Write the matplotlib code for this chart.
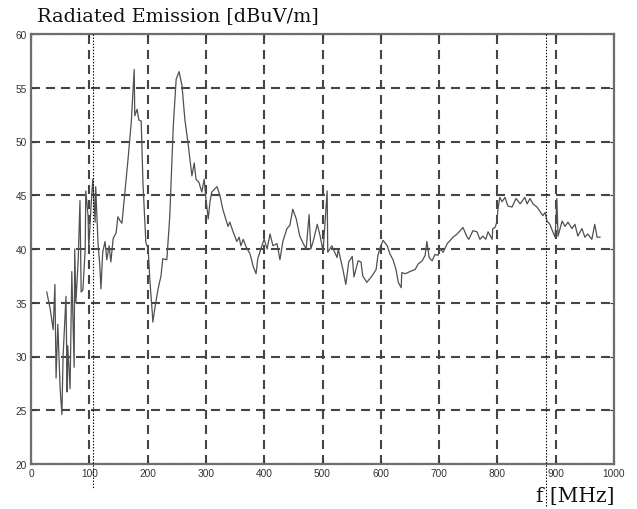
import matplotlib
matplotlib.use("Agg")
import matplotlib.pyplot as plt

# Data
freq_mhz = [27, 33, 38, 41, 43, 46, 50, 53, 55, 60, 62, 63, 67, 70, 74, 75, 77, 81, 84, 86,
            89, 93, 94, 98, 99, 103, 106, 110, 111, 115, 118, 120, 123, 127, 130, 134, 137,
            141, 146, 149, 153, 156, 161, 166, 172, 177, 178, 182, 185, 189, 192, 197, 201,
            204, 208, 209, 213, 218, 223, 226, 233, 238, 244, 249, 254, 259, 264, 269, 274,
            276, 280, 283, 288, 293, 297, 300, 304, 307, 310, 319, 324, 329, 334, 338, 341,
            346, 353, 357, 360, 364, 369, 376, 381, 386, 389, 396, 400, 405, 410, 415, 422,
            427, 432, 439, 444, 449, 455, 461, 467, 472, 477, 480, 484, 491, 496, 501, 508,
            509, 516, 525, 527, 535, 540, 545, 551, 554, 561, 566, 569, 576, 585, 592, 595,
            600, 604, 611, 616, 621, 626, 630, 635, 636, 642, 650, 659, 664, 671, 676, 679,
            683, 688, 693, 698, 702, 707, 714, 719, 724, 731, 736, 741, 748, 751, 758, 765,
            770, 775, 780, 784, 791, 792, 796, 799, 801, 804, 808, 813, 818, 825, 832, 839,
            847, 851, 856, 861, 868, 873, 878, 882, 885, 890, 895, 899, 902, 904, 911, 916,
            921, 928, 933, 938, 945, 950, 955, 962, 967, 971, 976]
level_dbuv = [36.0, 34.4, 32.5, 36.7, 28.0, 33.0, 27.0, 24.6, 30.0, 35.6, 26.7, 31.0, 27.0,
              37.9, 29.0, 40.0, 35.0, 39.0, 44.5, 36.0, 36.2, 40.0, 45.4, 43.0, 40.0, 44.0,
              46.5, 42.5, 45.8, 40.5, 38.5, 36.3, 39.7, 40.7, 39.0, 40.3, 38.8, 41.0, 41.5,
              43.0, 42.6, 42.4, 45.3, 48.1, 51.8, 56.7, 52.4, 53.0, 52.0, 51.9, 46.2, 40.6,
              40.0, 37.0, 34.1, 33.2, 34.7, 36.3, 37.5, 39.1, 39.0, 43.0, 51.4, 55.8, 56.5,
              55.2, 52.0, 50.0, 47.7, 46.8, 48.0, 46.5, 46.2, 45.3, 46.5, 44.7, 42.8, 44.4,
              45.3, 45.8, 45.0, 43.7, 42.8, 42.1, 42.5, 41.7, 40.7, 41.1, 40.3, 40.9, 40.2,
              39.5, 38.4, 37.7, 39.1, 40.3, 40.9, 40.0, 41.4, 40.3, 40.5, 39.0, 40.7, 41.9,
              42.2, 43.7, 42.8, 41.2, 40.5, 40.0, 43.2, 40.0, 40.7, 42.3, 41.2, 39.8, 45.4,
              39.7, 40.3, 39.2, 40.0, 38.1, 36.7, 38.8, 39.3, 37.4, 38.9, 38.8, 37.5, 36.9,
              37.5, 38.1, 39.4, 40.3, 40.8, 40.3, 39.5, 39.0, 38.1, 36.9, 36.4, 37.8, 37.7,
              37.9, 38.1, 38.6, 38.9, 39.4, 40.7, 39.2, 38.9, 39.5, 39.4, 40.0, 39.7, 40.5,
              40.8, 41.1, 41.4, 41.7, 42.0, 41.1, 40.9, 41.7, 41.6, 40.9, 41.2, 40.9, 41.6,
              40.9, 41.9, 42.0, 42.5, 43.7, 44.8, 44.4, 44.8, 44.0, 43.9, 44.7, 44.2, 44.8,
              44.2, 44.7, 44.2, 43.9, 43.5, 43.1, 43.4, 42.6, 42.3, 41.6, 41.1, 44.7, 41.2,
              42.6, 42.1, 42.5, 41.9, 42.3, 41.2, 41.9, 41.1, 41.4, 40.9, 42.3, 41.1, 41.1]
marker_freqs = [106, 883]
x_ticks = list(range(0, 1001, 100))
y_ticks = list(range(20, 61, 5))

plt.rcParams['lines.scale_dashes'] = False
fig = plt.figure(figsize=(6.37, 5.10), dpi=100)
ax = fig.add_axes([31 / 637, 1 - 465 / 510, 583 / 637, 430 / 510])

ax.set_xlim(0, 1000)
ax.set_ylim(20, 60)
ax.set_xticks(x_ticks)
ax.set_yticks(y_ticks)
ax.tick_params(direction='in', length=3, width=0.8, labelsize=7.3, colors='#333333',
               top=True, right=True, pad=3)
for lab in ax.get_xticklabels() + ax.get_yticklabels():
    lab.set_family('Liberation Sans')

ax.grid(True, color='#454545', linewidth=1.5, linestyle=(0, (6.5, 4.3)))
ax.set_axisbelow(True)

for s in ax.spines.values():
    s.set_color('#6e6e6e')
    s.set_linewidth(1.6)

ax.plot(freq_mhz, level_dbuv, color='#505050', linewidth=0.9, zorder=3)

# dotted marker lines extending below the axes
ax.plot([marker_freqs[0]] * 2, [60, 17.8], color='black', linestyle=(0, (1, 1.2)),
        linewidth=0.8, clip_on=False, zorder=4)
ax.plot([marker_freqs[1]] * 2, [60, 16.0], color='black', linestyle=(0, (1, 1.2)),
        linewidth=0.8, clip_on=False, zorder=4)

fig.text(37 / 637, 1 - 16 / 510, 'Radiated Emission [dBuV/m]', family='DejaVu Serif',
         fontsize=13.9, ha='left', va='center', color='#111111')
fig.text(615 / 637, 1 - 497 / 510, 'f [MHz]', family='DejaVu Serif',
         fontsize=14.5, ha='right', va='center', color='#111111')

fig.savefig('out.png', dpi=100, facecolor='white')
